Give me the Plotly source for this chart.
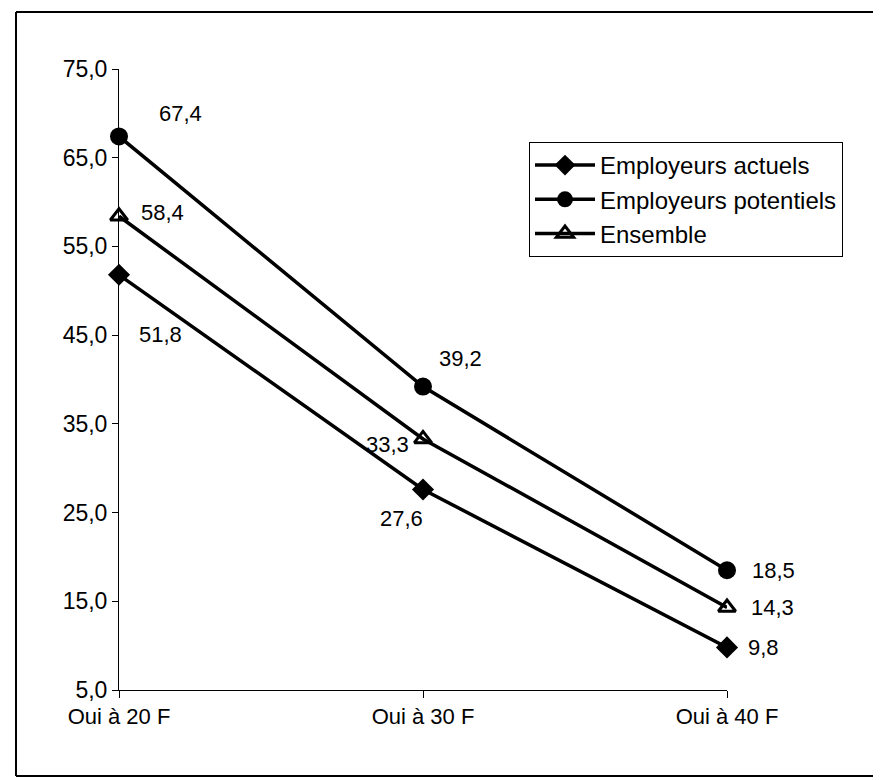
import plotly.graph_objects as go

categories = ["Oui à 20 F", "Oui à 30 F", "Oui à 40 F"]
actuels = [51.8, 27.6, 9.8]
potentiels = [67.4, 39.2, 18.5]
ensemble = [58.4, 33.3, 14.3]
series_names = ["Employeurs actuels", "Employeurs potentiels", "Ensemble"]

# label pixel offsets (xshift, yshift) for each series point
offs_actuels = [(41, -60), (-22, -29), (36, 0)]
offs_potentiels = [(61, 23), (37, 28), (46, 0)]
offs_ensemble = [(43, 4), (-36, -6), (45, 0)]

FONT = "Liberation Sans, Arial, sans-serif"
PAD = 8  # default page body margin
W, H = 881 - PAD, 780 - PAD
L, R, T, B = 119 - PAD, 727 - PAD, 69 - PAD, 690 - PAD

xs = list(range(len(categories)))
fig = go.Figure()
styles = [
    dict(symbol="diamond", size=17, color="black", line=dict(width=0)),
    dict(symbol="circle", size=18, color="black", line=dict(width=0)),
    dict(symbol="triangle-up-open", size=15, color="black", line=dict(width=3, color="black")),
]
for name, vals, st in zip(series_names, [actuels, potentiels, ensemble], styles):
    fig.add_trace(go.Scatter(
        x=xs, y=vals, name=name, mode="lines+markers",
        line=dict(color="black", width=3.5),
        marker=st, cliponaxis=False,
    ))

ann = []
for vals, offs in [(actuels, offs_actuels), (potentiels, offs_potentiels), (ensemble, offs_ensemble)]:
    for i, (v, (dx, dy)) in enumerate(zip(vals, offs)):
        ann.append(dict(x=xs[i], y=v, xref="x", yref="y", text=f"{v:.1f}".replace(".", ","),
                        showarrow=False, xshift=dx, yshift=dy,
                        font=dict(family=FONT, size=22, color="black")))

pw, ph = R - L, B - T
def px_x(p):
    return (p - PAD - L) / pw
def px_y(p):
    return (B - (p - PAD)) / ph

frame = dict(color="black", width=2)
fx0, fx1, fy0, fy1 = px_x(16), px_x(881), px_y(776), px_y(12)
shapes = [
    dict(type="line", xref="paper", yref="paper", x0=fx0, x1=fx0, y0=fy0, y1=fy1, line=frame),
    dict(type="line", xref="paper", yref="paper", x0=fx0, x1=fx1, y0=fy1, y1=fy1, line=frame),
    dict(type="line", xref="paper", yref="paper", x0=fx0, x1=fx1, y0=fy0, y1=fy0, line=frame),
]

fig.update_layout(
    width=W, height=H,
    margin=dict(l=L, r=W - R, t=T, b=H - B),
    paper_bgcolor="white", plot_bgcolor="white",
    separators=", ",
    font=dict(family=FONT, color="black"),
    showlegend=True,
    legend=dict(x=px_x(529), y=px_y(142), xanchor="left", yanchor="top",
                bordercolor="black", borderwidth=1, bgcolor="white",
                font=dict(family=FONT, size=24, color="black"),
                itemwidth=60, tracegroupgap=0, traceorder="normal"),
    xaxis=dict(range=[0, 2], tickmode="array", tickvals=xs, ticktext=categories,
               showgrid=False, zeroline=False, showline=True, linecolor="black", linewidth=1,
               ticks="outside", ticklen=7, tickcolor="black",
               tickfont=dict(family=FONT, size=22, color="black")),
    yaxis=dict(range=[5, 75], dtick=10, tick0=5, tickformat=".1f",
               showgrid=False, zeroline=False, showline=True, linecolor="black", linewidth=1,
               ticks="outside", ticklen=6, tickcolor="black",
               tickfont=dict(family=FONT, size=23, color="black")),
    annotations=ann, shapes=shapes,
)
fig.write_html("out.html")
